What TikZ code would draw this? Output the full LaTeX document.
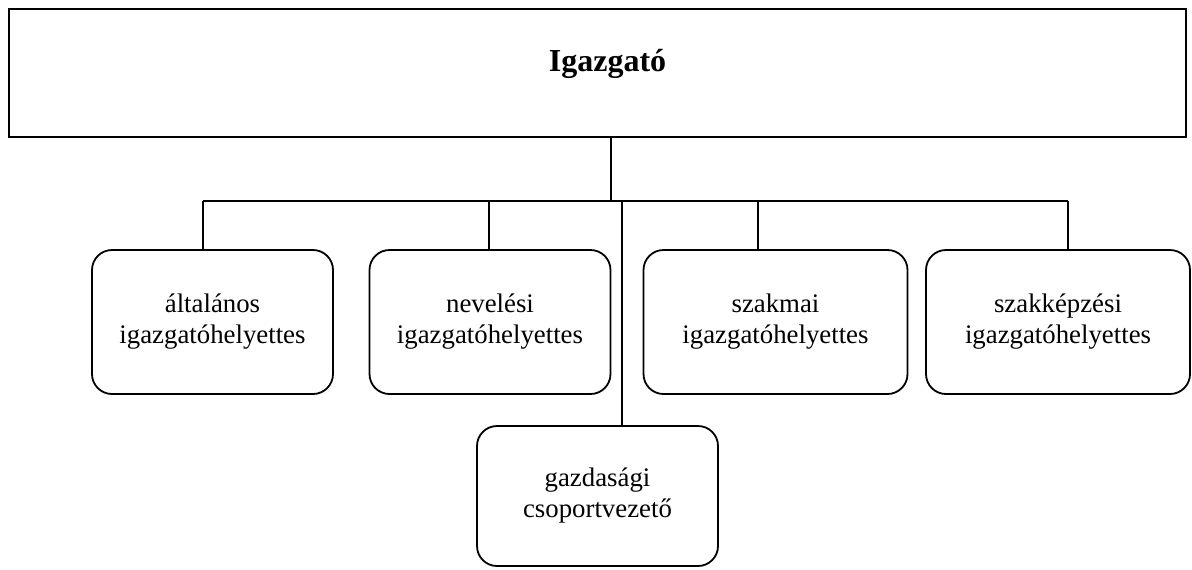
\documentclass[tikz,border=0pt]{standalone}
\usepackage{fontspec}
\setmainfont{Liberation Serif}
\usetikzlibrary{positioning}

\begin{document}
\begin{tikzpicture}[x=0.5pt, y=-0.5pt, line width=0.75pt,
    vezeto/.style={draw, line width=0.9pt, minimum width=588.5pt, minimum height=64pt},
    helyettes/.style={draw, line width=0.9pt, rounded corners=10pt, align=center, minimum width=120.5pt, minimum height=72pt, font=\fontsize{13.4}{15.5}\selectfont},
    szeles/.style={minimum width=132pt}]
    \useasboundingbox (0,0) rectangle (1192,569);
    \node[vezeto, label={[font=\fontsize{16}{19}\selectfont\bfseries, xshift=5pt, yshift=4.5pt]center:Igazgató}] (igazgato) at (597.5,73) {};
    \node[helyettes] (altalanos) at (212.5,322) {általános\\igazgatóhelyettes};
    \node[helyettes] (neveles) at (490,322) {nevelési\\igazgatóhelyettes};
    \node[helyettes, szeles] (szakmai) at (775.5,322) {szakmai\\igazgatóhelyettes};
    \node[helyettes, szeles] (szakkepzes) at (1058,322) {szakképzési\\igazgatóhelyettes};
    \node[helyettes, minimum height=70pt] (gazdasagi) at (597.5,496) {gazdasági\\csoportvezető};

    \coordinate (j1) at (203,201);
    \coordinate (j2) at (489,201);
    \coordinate (jt) at (611,201);
    \coordinate (jg) at (622,201);
    \coordinate (j3) at (758,201);
    \coordinate (j4) at (1068,201);

    \draw[-] (igazgato.south -| jt) -- (jt);
    \draw[-] (j1) -- (j4);
    \draw[-] (j1) -- (j1 |- altalanos.north);
    \draw[-] (j2) -- (j2 |- neveles.north);
    \draw[-] (j3) -- (j3 |- szakmai.north);
    \draw[-] (j4) -- (j4 |- szakkepzes.north);
    \draw[-] (jg) -- (jg |- gazdasagi.north);
\end{tikzpicture}
\end{document}
